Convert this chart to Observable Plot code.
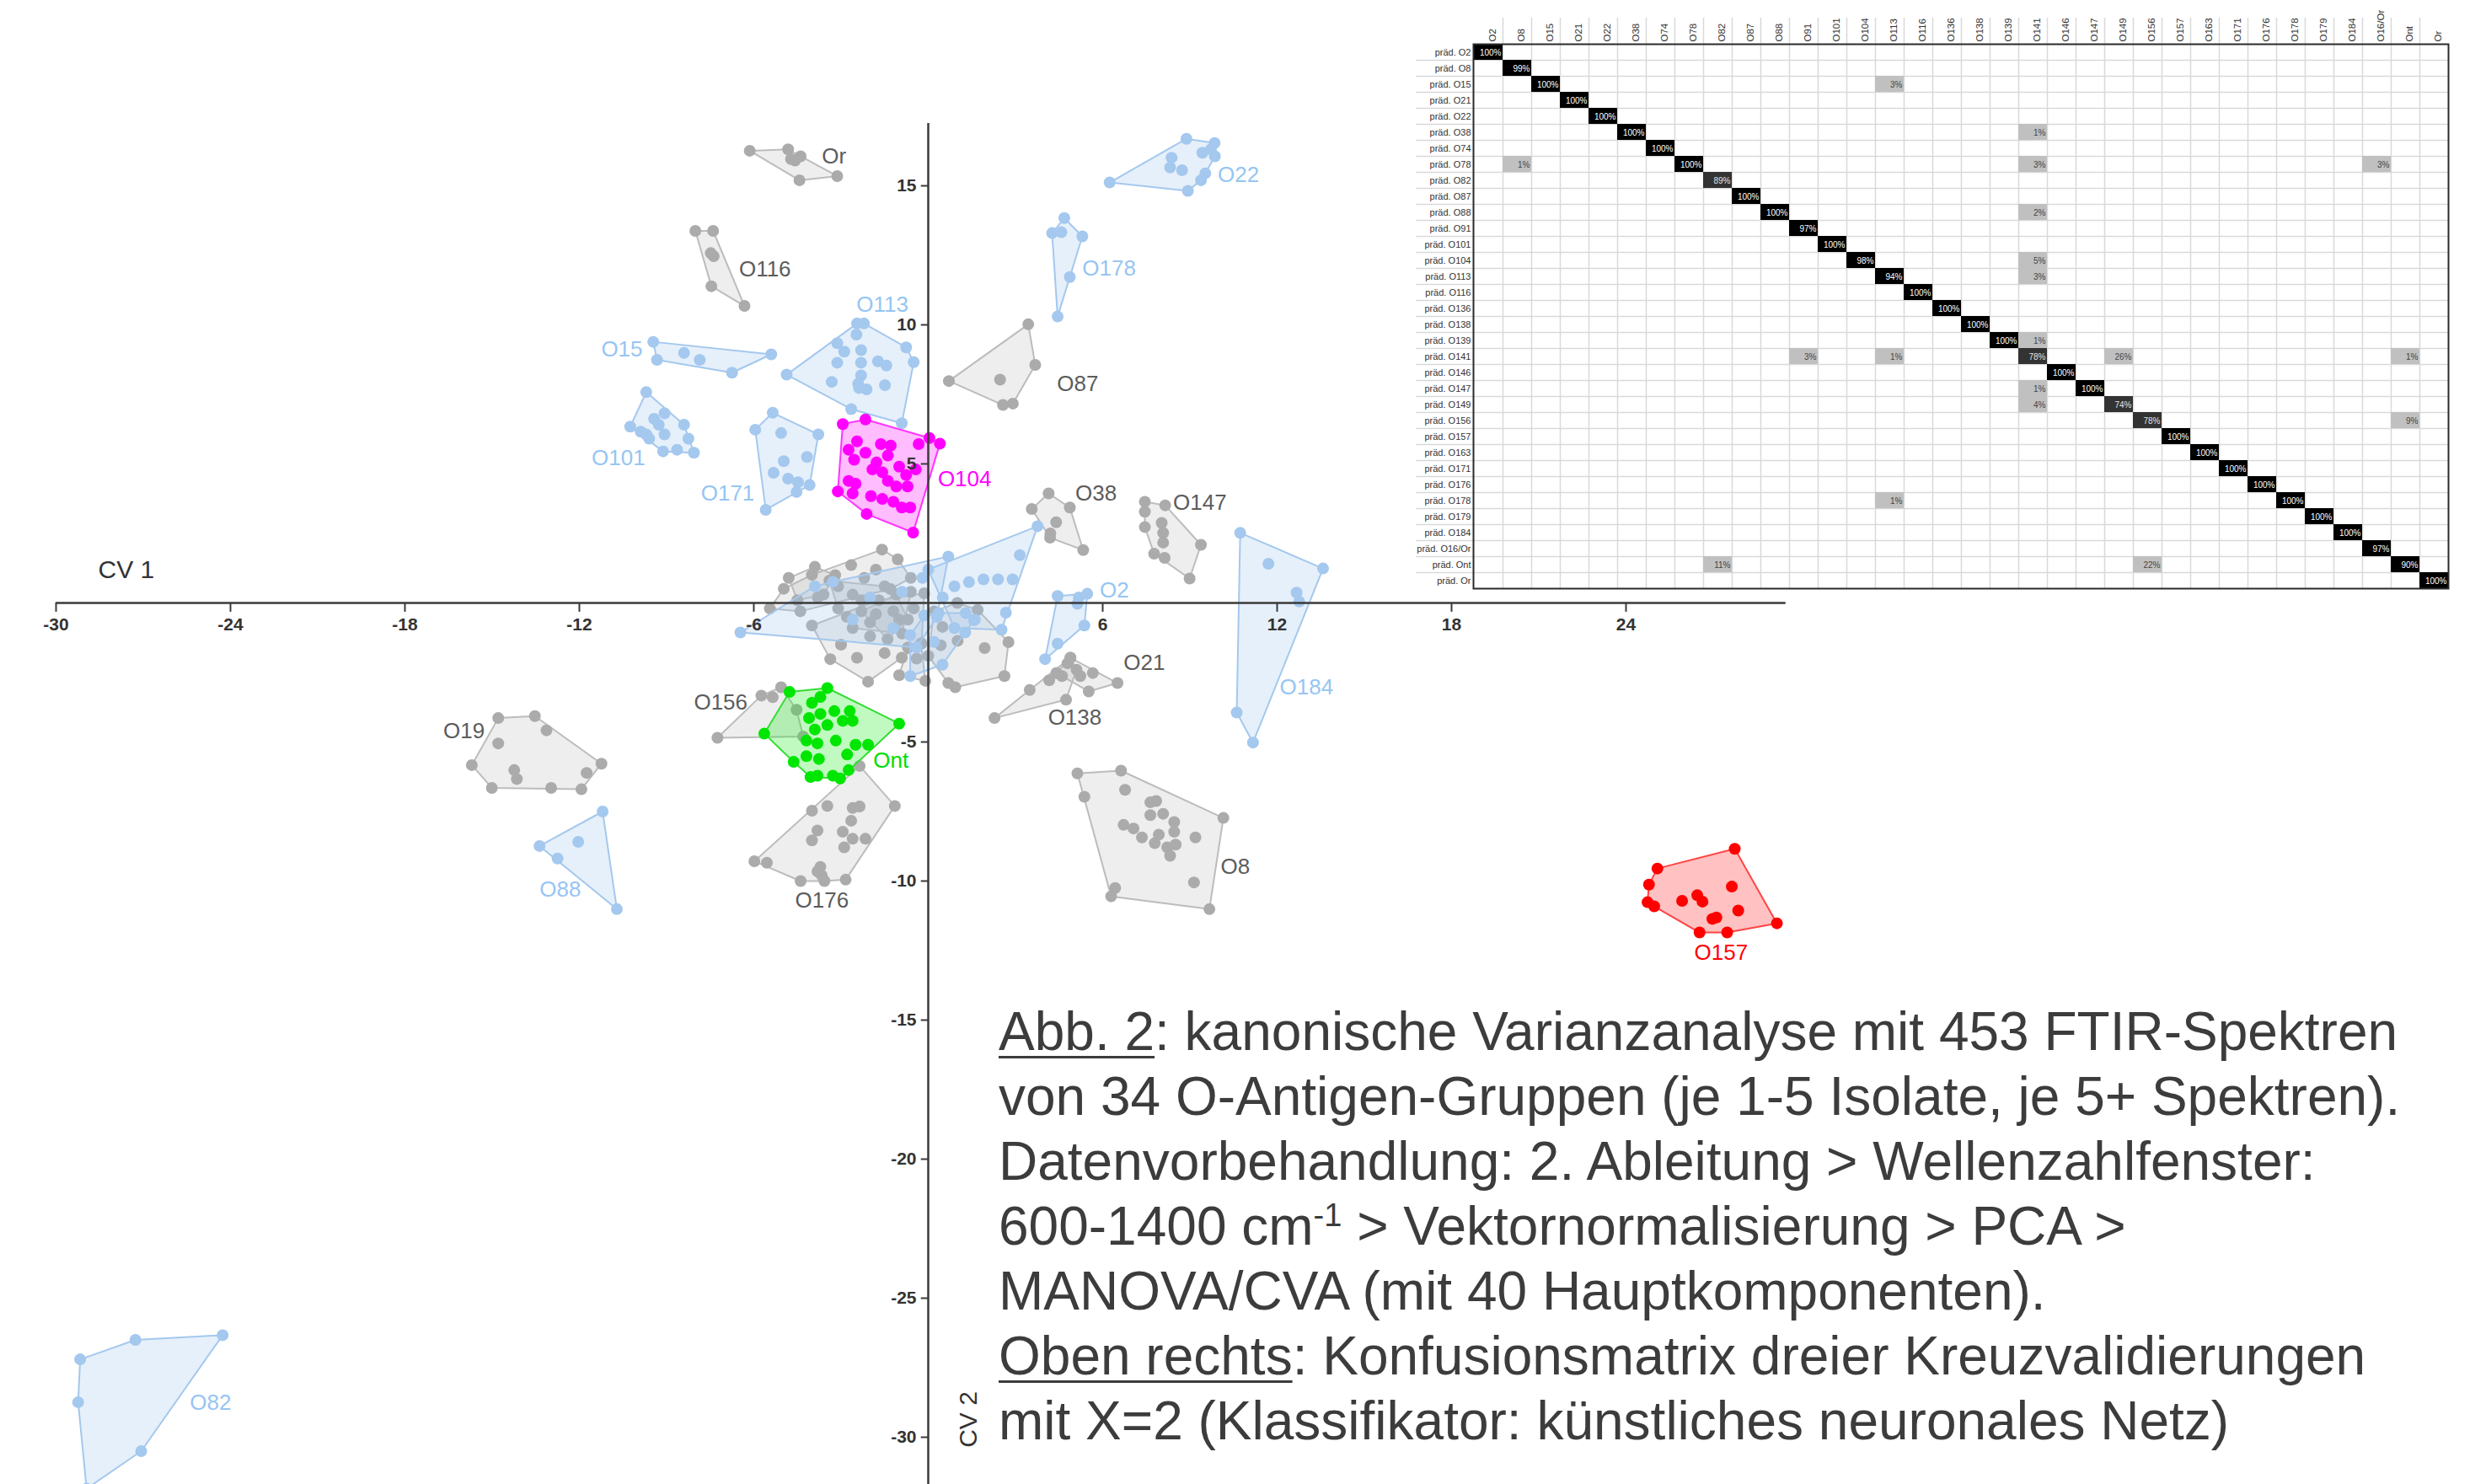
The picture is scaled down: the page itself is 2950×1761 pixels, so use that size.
<!DOCTYPE html>
<html><head><meta charset="utf-8">
<script src="https://cdn.jsdelivr.net/npm/d3@7"></script>
<script src="https://cdn.jsdelivr.net/npm/@observablehq/plot@0.6"></script>
<style>
html,body{margin:0;padding:0;background:#fff;width:2950px;height:1761px;overflow:hidden;font-family:"Liberation Sans",Arial,sans-serif;}
#scatter{position:absolute;left:0;top:0;}
#matrix{position:absolute;left:1600px;top:12px;}
#caption{position:absolute;left:1185px;top:1186px;font-size:64px;line-height:77px;color:#3c3c3c;white-space:nowrap;}
#caption u{text-decoration-thickness:3px;text-underline-offset:7px;}
#caption sup{font-size:38px;line-height:0;}
</style></head><body>
<div id="scatter"></div>
<div id="matrix"></div>
<div id="caption"><u>Abb. 2</u>: kanonische Varianzanalyse mit 453 FTIR-Spektren<br>von 34 O-Antigen-Gruppen (je 1-5 Isolate, je 5+ Spektren).<br>Datenvorbehandlung: 2. Ableitung &gt; Wellenzahlfenster:<br>600-1400 cm<sup>-1</sup> &gt; Vektornormalisierung &gt; PCA &gt;<br>MANOVA/CVA (mit 40 Hauptkomponenten).<br><u>Oben rechts</u>: Konfusionsmatrix dreier Kreuzvalidierungen<br>mit X=2 (Klassifikator: künstliches neuronales Netz)</div>
<script>
// ---------- axis ticks ----------
const xTicks = [-30, -24, -18, -12, -6, 6, 12, 18, 24];
const yTicks = [15, 10, 5, -5, -10, -15, -20, -25, -30];

// ---------- CVA scores per O-antigen group (CV1, CV2) ----------
const ptsOr   = [[-6.14,16.26],[-4.82,16.31],[-4.72,15.96],[-4.39,16.06],[-4.58,15.91],[-4.43,15.20],[-3.13,15.35]];
const ptsO116 = [[-8.01,13.38],[-7.40,13.38],[-7.48,12.58],[-7.38,12.47],[-7.46,11.39],[-6.32,10.68]];
const ptsO87  = [[3.44,10.02],[3.68,8.56],[2.47,8.03],[0.71,7.98],[2.57,7.12],[2.91,7.17]];
const ptsO38  = [[4.14,3.94],[3.56,3.38],[4.87,3.43],[4.19,2.35],[5.33,1.90],[4.40,2.90],[4.20,2.50]];
const ptsO147 = [[7.45,3.64],[8.15,3.51],[7.45,3.28],[7.45,2.73],[8.03,2.88],[8.08,2.52],[8.08,2.17],[7.77,1.77],[8.13,1.62],[9.38,2.09],[8.99,0.88]];
const ptsO21  = [[4.89,-1.97],[4.79,-2.17],[5.23,-2.63],[5.66,-2.52],[6.51,-2.88],[5.52,-3.18],[4.60,-2.63],[4.41,-2.52]];
const ptsO138 = [[2.28,-4.14],[3.49,-3.13],[4.16,-2.78],[4.74,-3.48],[4.41,-2.52],[4.89,-1.97],[5.10,-2.40]];
const ptsO156 = [[-7.25,-4.85],[-5.74,-3.33],[-5.35,-3.39],[-5.06,-3.03],[-4.53,-3.84],[-4.30,-4.80]];
const ptsO19  = [[-14.79,-4.14],[-13.53,-4.07],[-13.13,-4.58],[-14.79,-5.05],[-15.70,-5.83],[-14.24,-6.01],[-14.15,-6.33],[-11.24,-5.78],[-11.75,-6.11],[-15.01,-6.65],[-12.97,-6.65],[-11.93,-6.70]];
const ptsO176 = [[-2.36,-5.86],[-1.15,-7.30],[-3.47,-7.30],[-4.00,-7.47],[-2.60,-7.37],[-2.36,-7.32],[-2.65,-7.83],[-3.81,-8.18],[-4.00,-8.54],[-2.94,-8.23],[-2.60,-8.48],[-2.16,-8.48],[-2.89,-8.79],[-5.98,-9.29],[-5.55,-9.34],[-3.71,-9.49],[-3.66,-9.80],[-4.39,-10.00],[-3.57,-10.00],[-2.84,-9.95],[-3.81,-9.65]];
const ptsO8   = [[5.13,-6.13],[6.63,-6.03],[5.37,-6.97],[6.77,-6.72],[7.64,-7.17],[7.84,-7.12],[7.64,-7.63],[8.08,-7.58],[8.46,-7.88],[6.72,-7.98],[7.06,-8.11],[7.35,-8.43],[7.79,-8.64],[7.93,-8.33],[8.46,-8.23],[8.51,-8.69],[8.22,-8.79],[8.32,-9.09],[9.19,-8.43],[10.15,-7.73],[9.14,-10.05],[6.43,-10.25],[6.29,-10.55],[9.67,-11.01]];
const ptsO74  = [[-5.45,-0.20],[-4.97,0.51],[-4.00,1.01],[-2.65,1.36],[-1.59,1.92],[-1.05,1.57],[-0.60,0.90],[-1.30,0.50],[-2.20,0.90],[-3.10,0.60],[-3.80,0.20],[-2.60,0.30],[-1.80,1.20],[-4.40,-0.30]];
const ptsO91  = [[-4.00,-0.81],[-3.37,-2.02],[-2.07,-2.83],[-0.91,-1.97],[-0.23,-1.46],[-0.14,0.35],[-1.00,-0.60],[-2.00,-1.20],[-2.80,-0.50],[-1.50,-1.80],[-3.00,-1.50],[-0.50,-0.20],[-1.70,0.10],[-2.45,-1.97]];
const ptsO136 = [[-3.40,0.80],[-2.30,0.10],[-1.20,-0.30],[-0.60,0.40],[-2.00,-0.70],[-3.10,-0.20],[-1.50,0.60],[-2.60,-0.90],[-0.90,-1.10]];
const ptsO139 = [[0.20,-0.30],[1.70,-0.25],[2.76,-1.41],[2.62,-2.63],[0.93,-3.03],[0.69,-2.88],[0.43,-1.52],[1.01,-1.36],[1.94,-1.62],[0.49,-0.86],[0.00,-1.90],[1.00,0.00]];
const ptsO146 = [[-0.40,-2.00],[-0.10,-2.80],[-1.00,-2.60],[-0.70,-1.60],[-0.25,-1.45]];
const ptsO179 = [[-4.80,0.90],[-3.90,1.30],[-3.20,1.00],[-3.60,0.30],[-4.50,0.10]];
const ptsO16Or = [[-1.80,-0.40],[-1.10,0.30],[-0.70,-0.60],[-1.40,-1.30],[-2.30,-0.30]];
const ptsO15  = [[-9.46,9.39],[-9.33,8.74],[-8.40,8.99],[-7.86,8.74],[-6.75,8.28],[-5.40,8.94]];
const ptsO101 = [[-9.70,7.58],[-10.25,6.34],[-9.43,6.62],[-9.07,6.82],[-9.27,6.41],[-9.70,6.06],[-9.07,6.06],[-8.40,6.41],[-8.25,5.91],[-9.12,5.45],[-8.64,5.51],[-8.06,5.40],[-9.60,5.91],[-9.89,6.16]];
const ptsO113 = [[-2.45,10.05],[-2.21,10.05],[-2.47,9.65],[-3.13,9.34],[-2.89,9.04],[-2.31,9.09],[-3.13,8.64],[-2.31,8.64],[-1.73,8.69],[-1.44,8.54],[-0.76,9.19],[-0.50,8.66],[-4.87,8.21],[-3.32,7.95],[-2.31,8.18],[-2.41,7.88],[-2.12,7.68],[-1.49,7.83],[-2.65,6.97],[-0.91,6.46],[-2.38,7.73]];
const ptsO171 = [[-5.35,6.84],[-5.95,6.23],[-5.06,6.11],[-3.78,6.06],[-4.17,5.25],[-4.97,5.10],[-5.32,4.68],[-4.82,4.47],[-4.48,4.34],[-4.08,4.24],[-4.53,3.99],[-5.59,3.35]];
const ptsO178 = [[4.68,13.84],[4.26,13.30],[4.58,13.33],[5.30,13.18],[4.87,11.72],[4.45,10.30]];
const ptsO22  = [[6.24,15.12],[8.88,16.69],[9.85,16.54],[9.86,16.06],[9.43,16.19],[8.37,16.01],[8.32,15.66],[8.73,15.56],[9.53,15.45],[9.38,15.20],[8.93,14.82],[9.72,16.31]];
const ptsO2   = [[4.45,0.25],[5.18,0.20],[5.47,0.33],[5.13,-0.03],[5.37,-0.81],[4.45,-1.46],[4.02,-2.02]];
const ptsO184 = [[10.73,2.52],[11.70,1.41],[13.58,1.24],[12.67,0.37],[12.76,0.05],[10.61,-3.94],[11.17,-5.02]];
const ptsO88  = [[-11.20,-7.50],[-13.37,-8.74],[-12.04,-8.59],[-12.75,-9.19],[-10.71,-11.01]];
const ptsO82  = [[-24.27,-26.33],[-27.27,-26.50],[-29.17,-27.20],[-29.24,-28.74],[-27.07,-30.50],[-28.95,-31.85]];
const ptsO141 = [[-6.46,-1.06],[-3.28,0.76],[-3.90,0.60],[-2.00,0.20],[-0.90,0.40],[-0.20,0.90],[0.69,1.67],[0.30,-0.50],[-1.20,-0.90],[-0.40,-1.60],[-2.60,-0.60]];
const ptsO149 = [[0.00,1.20],[3.76,2.76],[3.15,1.72],[2.90,0.85],[2.40,0.85],[1.90,0.85],[1.40,0.75],[0.90,0.60],[0.50,0.20],[2.67,-0.35],[2.52,-0.96],[1.60,-0.60],[0.90,-0.90]];
const ptsO163 = [[-0.62,-1.16],[-0.62,-2.63],[0.49,-2.22],[1.27,-1.06],[-0.14,-0.45],[0.36,-0.36],[1.29,-0.36],[1.57,-0.62],[0.20,-1.40]];
const ptsOnt  = [[-4.77,-3.20],[-3.47,-3.06],[-3.71,-3.38],[-4.00,-3.59],[-3.23,-3.89],[-2.70,-3.89],[-1.00,-4.34],[-5.64,-4.70],[-4.10,-4.14],[-3.71,-3.99],[-3.47,-4.39],[-2.94,-4.24],[-2.60,-4.24],[-3.90,-4.55],[-4.19,-4.95],[-3.81,-5.05],[-3.18,-4.95],[-2.50,-5.10],[-2.07,-5.10],[-4.19,-5.51],[-3.76,-5.61],[-2.79,-5.45],[-4.63,-5.71],[-4.05,-6.26],[-3.81,-6.21],[-3.28,-6.21],[-3.03,-6.31],[-2.74,-6.01]];
const ptsO104 = [[-2.94,6.43],[-2.16,6.60],[0.04,5.93],[0.40,5.73],[-0.33,5.71],[-2.45,5.81],[-2.74,5.51],[-2.16,5.40],[-1.63,5.71],[-1.29,5.66],[-2.55,5.15],[-1.78,5.05],[-1.39,5.30],[-1.92,4.80],[-1.58,4.70],[-0.76,4.60],[-2.74,4.39],[-2.50,4.29],[-1.39,4.39],[-1.10,4.19],[-0.71,4.19],[-3.11,4.01],[-2.60,3.94],[-1.97,3.84],[-1.58,3.74],[-1.20,3.64],[-0.91,3.43],[-0.62,3.43],[-2.12,3.20],[-0.52,2.53],[-0.43,4.80],[-1.00,4.90]];
const ptsO157 = [[27.74,-8.84],[25.08,-9.55],[24.79,-10.13],[24.74,-10.76],[24.97,-10.91],[25.93,-10.71],[26.45,-10.51],[26.63,-10.74],[27.64,-10.20],[27.86,-11.06],[26.97,-11.36],[27.11,-11.31],[29.19,-11.52],[26.53,-11.85],[27.48,-11.85]];

// group table: name, colour class, points, label anchor (CV1, CV2) or null
const groupNames  = ["Or","O116","O87","O38","O147","O21","O138","O156","O19","O176","O8","O74","O91","O136","O139","O146","O179","O16/Or",
                     "O15","O101","O113","O171","O178","O22","O2","O184","O88","O82","O141","O149","O163",
                     "Ont","O104","O157"];
const groupClass  = ["gray","gray","gray","gray","gray","gray","gray","gray","gray","gray","gray","gray","gray","gray","gray","gray","gray","gray",
                     "blue","blue","blue","blue","blue","blue","blue","blue","blue","blue","blue","blue","blue",
                     "green","magenta","red"];
const groupPoints = [ptsOr,ptsO116,ptsO87,ptsO38,ptsO147,ptsO21,ptsO138,ptsO156,ptsO19,ptsO176,ptsO8,ptsO74,ptsO91,ptsO136,ptsO139,ptsO146,ptsO179,ptsO16Or,
                     ptsO15,ptsO101,ptsO113,ptsO171,ptsO178,ptsO22,ptsO2,ptsO184,ptsO88,ptsO82,ptsO141,ptsO149,ptsO163,
                     ptsOnt,ptsO104,ptsO157];
const groupLabelAt = [[-3.66,16.06],[-6.51,12.0],[4.43,7.88],[5.06,3.94],[8.42,3.61],[6.72,-2.17],[4.12,-4.14],[-8.06,-3.57],[-16.68,-4.6],[-4.58,-10.71],[10.06,-9.49],null,null,null,null,null,null,null,
                      [-11.25,9.12],[-11.58,5.2],[-2.47,10.71],[-7.82,3.94],[5.3,12.02],[9.96,15.4],[5.9,0.45],[12.09,-3.03],[-13.37,-10.3],[-25.4,-28.76],null,null,null,
                      [-1.89,-5.66],[0.33,4.44],[26.35,-12.58]];

// ---------- confusion matrix ----------
const confGroups = ["O2","O8","O15","O21","O22","O38","O74","O78","O82","O87","O88","O91","O101","O104","O113","O116","O136","O138","O139","O141","O146","O147","O149","O156","O157","O163","O171","O176","O178","O179","O184","O16/Or","Ont","Or"];
const confDiag = [100,99,100,100,100,100,100,100,89,100,100,97,100,98,94,100,100,100,100,78,100,100,74,78,100,100,100,100,100,100,100,97,90,100];
const confOff = [["O15","O113",3],["O38","O141",1],["O78","O8",1],["O78","O141",3],["O78","O16/Or",3],["O88","O141",2],["O104","O141",5],["O113","O141",3],["O139","O141",1],["O141","O91",3],["O141","O113",1],["O141","O149",26],["O141","Ont",1],["O147","O141",1],["O149","O141",4],["O156","Ont",9],["O178","O113",1],["Ont","O82",11],["Ont","O156",22]];

// ---------- styles ----------
const classOrder = ["gray","blue","green","magenta","red"];
const dotColor   = {gray:"#ababab", blue:"#a4c8ee", green:"#00e600", magenta:"#ff00ff", red:"#ff0000"};
const polyStroke = {gray:"#bcbcbc", blue:"#a4c8ee", green:"#33dd33", magenta:"#ff33ff", red:"#ff4444"};
const polyFill   = {gray:"#a8a8a8", blue:"#a4c8ee", green:"#22ee22", magenta:"#ff22ff", red:"#ff3333"};
const polyOpac   = {gray:0.2, blue:0.27, green:0.28, magenta:0.3, red:0.3};
const labelColor = {gray:"#5c5c5c", blue:"#96c5f3", green:"#00dd00", magenta:"#ff00ff", red:"#ff0000"};
const FONT = "Liberation Sans, Arial, sans-serif";

const pointRows = [], hullRows = [], labelRows = [];
groupNames.forEach((g, i) => {
  const cls = groupClass[i], pts = groupPoints[i];
  pts.forEach(([x, y]) => pointRows.push({g, cls, x, y}));
  (d3.polygonHull(pts) || pts).forEach(([x, y]) => hullRows.push({g, cls, x, y}));
  if (groupLabelAt[i]) labelRows.push({g, cls, x: groupLabelAt[i][0], y: groupLabelAt[i][1]});
});

const W = 2950, H = 1761;
const xDom = [-30, 29.5], yTop = 715 / 33, yBot = yTop - H / 33;
const scatter = Plot.plot({
  width: W, height: H,
  marginLeft: 66, marginRight: W - 66 - (xDom[1] - xDom[0]) * 34.5, marginTop: 0, marginBottom: 0,
  x: {domain: xDom, axis: null},
  y: {domain: [yBot, yTop], axis: null},
  color: {type: "identity"},
  style: {background: "transparent", fontFamily: FONT},
  marks: [
    ...classOrder.flatMap(c => [
      Plot.line(hullRows.filter(d => d.cls === c), {x: "x", y: "y", z: "g", curve: "linear-closed",
        fill: polyFill[c], fillOpacity: polyOpac[c], stroke: polyStroke[c], strokeWidth: 2}),
      Plot.dot(pointRows.filter(d => d.cls === c), {x: "x", y: "y", r: 7, fill: dotColor[c]})
    ]),
    Plot.ruleY([0], {x1: xDom[0], x2: xDom[1], stroke: "#3a3a3a", strokeWidth: 2.5}),
    Plot.ruleX([0], {y1: 17.24, y2: yBot, stroke: "#3a3a3a", strokeWidth: 2.5}),
    Plot.ruleX(xTicks, {x: d => d, y1: 0, y2: -0.33, stroke: "#3a3a3a", strokeWidth: 2}),
    Plot.ruleY(yTicks, {y: d => d, x1: -0.24, x2: 0, stroke: "#3a3a3a", strokeWidth: 2}),
    Plot.text(xTicks, {x: d => d, y: 0, dy: 26, text: d => String(d), fontSize: 21, fontWeight: "bold", fill: "#333"}),
    Plot.text(yTicks, {x: 0, y: d => d, dx: -14, text: d => String(d), textAnchor: "end", fontSize: 21, fontWeight: "bold", fill: "#333"}),
    Plot.text(["CV 1"], {x: xDom[0], y: 0, dx: 50, dy: -39, text: d => d, textAnchor: "start", fontSize: 30, fill: "#333"}),
    Plot.text(["CV 2"], {x: 0, y: -30, dx: 48, dy: -21, text: d => d, rotate: -90, fontSize: 30, fill: "#333"}),
    Plot.text(labelRows, {x: "x", y: "y", text: "g", textAnchor: "start", fontSize: 26, fill: d => labelColor[d.cls]})
  ]
});
document.getElementById("scatter").append(scatter);

// ---------- matrix ----------
const confRows = confGroups.map((g, i) => ({r: g, c: g, v: confDiag[i]}));
confOff.forEach(([r, c, v]) => confRows.push({r, c, v}));
const shade = v => v >= 90 ? "#000000" : v >= 50 ? "#333333" : "#c0c0c0";
const ink = v => v >= 90 ? "#ffffff" : v >= 50 ? "#e4e4e4" : "#444444";
const MW = 1350, ML = 148, MR = 45, MT = 40, MB = 3, MH = 689;
const cw = (MW - ML - MR) / confGroups.length, ch = (MH - MT - MB) / confGroups.length;
const matrix = Plot.plot({
  width: MW, height: MH, marginLeft: ML, marginRight: MR, marginTop: MT, marginBottom: MB,
  x: {domain: confGroups, padding: 0, axis: null},
  y: {domain: confGroups, padding: 0, axis: null},
  color: {type: "identity"},
  style: {background: "transparent", fontFamily: FONT},
  marks: [
    Plot.ruleX(confGroups.slice(1), {x: d => d, dx: -cw / 2, insetTop: -(MT - 9), stroke: "#d9d9d9", strokeWidth: 1.5}),
    Plot.ruleY(confGroups.slice(1), {y: d => d, dy: -ch / 2, insetLeft: -68, stroke: "#d9d9d9", strokeWidth: 1.5}),
    Plot.cell(confRows, {x: "c", y: "r", fill: d => shade(d.v)}),
    Plot.text(confRows, {x: "c", y: "r", text: d => d.v + "%", fill: d => ink(d.v), textAnchor: "end", dx: cw / 2 - 2, dy: 1, fontSize: 10}),
    Plot.text(confGroups, {y: d => d, frameAnchor: "left", text: d => "präd. " + d, textAnchor: "end", dx: -3, fontSize: 11, fill: "#333"}),
    Plot.text(confGroups, {x: d => d, frameAnchor: "top", text: d => d, rotate: -90, textAnchor: "start", dy: -3, fontSize: 11.5, fill: "#333"}),
    Plot.frame({stroke: "#2a2a2a", strokeWidth: 2})
  ]
});
document.getElementById("matrix").append(matrix);
</script>
</body></html>
